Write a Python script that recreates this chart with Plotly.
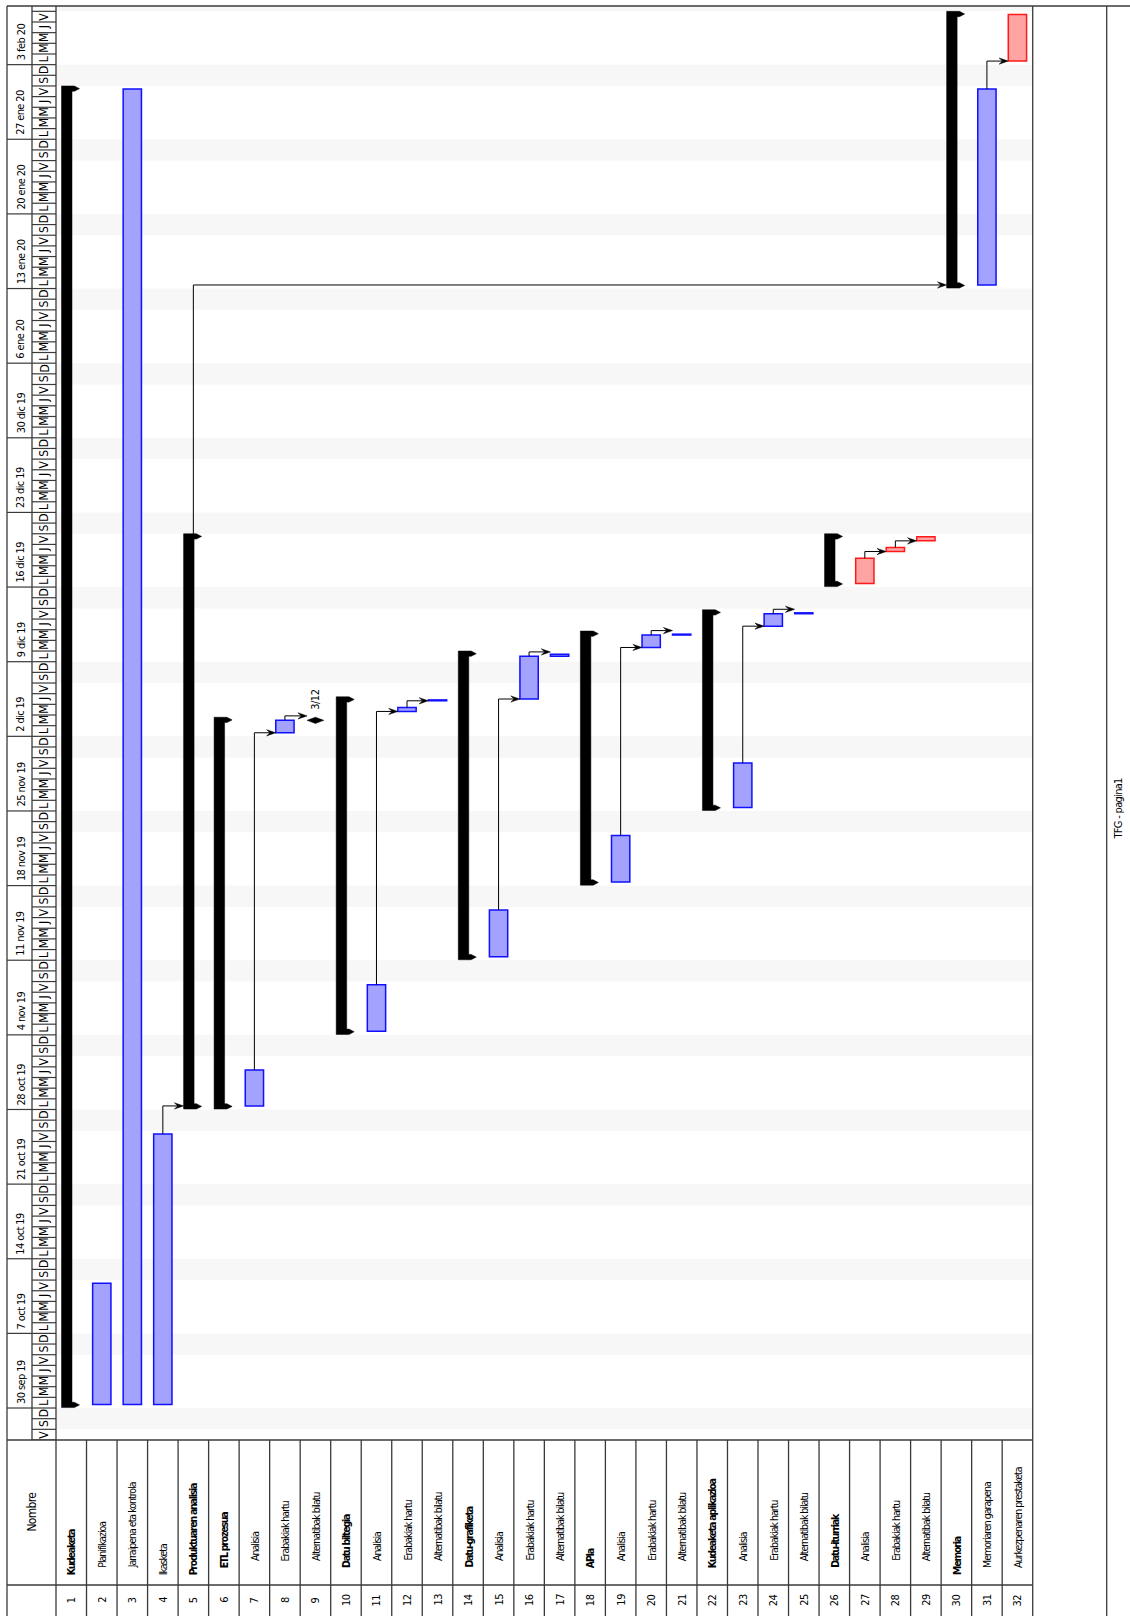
import pandas as pd
import plotly.graph_objects as go

# ---------------- project data ----------------
task_ids = list(range(1, 33))
task_names = [
    "Kudeaketa", "Planifikazioa", "Jarraipena eta kontrola", "Ikasketa",
    "Produktuaren analisia", "ETL prozesua", "Analisia", "Erabakiak hartu",
    "Alternatibak bilatu", "Datu biltegia", "Analisia", "Erabakiak hartu",
    "Alternatibak bilatu", "Datu-grafiketa", "Analisia", "Erabakiak hartu",
    "Alternatibak bilatu", "APIa", "Analisia", "Erabakiak hartu",
    "Alternatibak bilatu", "Kudeaketa aplikazioa", "Analisia", "Erabakiak hartu",
    "Alternatibak bilatu", "Datu-iturriak", "Analisia", "Erabakiak hartu",
    "Alternatibak bilatu", "Memoria", "Memoriaren garapena", "Aurkezpenaren prestaketa",
]
outline_levels = [1, 2, 2, 1, 1, 2, 3, 3, 3, 2, 3, 3, 3, 2, 3, 3,
                  3, 2, 3, 3, 3, 2, 3, 3, 3, 2, 3, 3, 3, 1, 2, 2]
task_kinds = [
    "summary", "task", "task", "task", "summary", "summary", "task", "task",
    "milestone", "summary", "task", "task", "task", "summary", "task", "task",
    "task", "summary", "task", "task", "task", "summary", "task", "task",
    "task", "summary", "critical", "critical", "critical", "summary", "task", "critical",
]
task_starts = [
    "2019-09-30 08:00", "2019-09-30 08:00", "2019-09-30 08:00", "2019-09-30 08:00",
    "2019-10-28 08:00", "2019-10-28 08:00", "2019-10-28 08:00", "2019-12-02 08:00",
    "2019-12-03 12:00", "2019-11-04 08:00", "2019-11-04 08:00", "2019-12-04 08:00",
    "2019-12-05 08:00", "2019-11-11 08:00", "2019-11-11 08:00", "2019-12-05 12:00",
    "2019-12-09 12:00", "2019-11-18 08:00", "2019-11-18 08:00", "2019-12-10 08:00",
    "2019-12-11 12:00", "2019-11-25 08:00", "2019-11-25 08:00", "2019-12-12 08:00",
    "2019-12-13 12:00", "2019-12-16 08:00", "2019-12-16 08:00", "2019-12-19 08:00",
    "2019-12-20 08:00", "2020-01-13 08:00", "2020-01-13 08:00", "2020-02-03 08:00",
]
task_finishes = [
    "2020-01-31 17:00", "2019-10-11 17:00", "2020-01-31 17:00", "2019-10-25 17:00",
    "2019-12-20 17:00", "2019-12-03 12:00", "2019-10-31 17:00", "2019-12-03 12:00",
    "2019-12-03 12:00", "2019-12-05 10:00", "2019-11-08 17:00", "2019-12-04 17:00",
    "2019-12-05 10:00", "2019-12-09 17:00", "2019-11-15 17:00", "2019-12-09 12:00",
    "2019-12-09 17:00", "2019-12-11 14:00", "2019-11-22 17:00", "2019-12-11 12:00",
    "2019-12-11 14:00", "2019-12-13 14:00", "2019-11-29 12:00", "2019-12-13 12:00",
    "2019-12-13 14:00", "2019-12-20 17:00", "2019-12-18 17:00", "2019-12-19 17:00",
    "2019-12-20 17:00", "2020-02-07 17:00", "2020-01-31 17:00", "2020-02-07 17:00",
]
# finish-to-start dependencies (predecessor id, successor id)
links = [(4, 5), (5, 30), (7, 8), (8, 9), (11, 12), (12, 13), (15, 16), (16, 17),
         (19, 20), (20, 21), (23, 24), (24, 25), (27, 28), (28, 29), (31, 32)]
milestone_labels = {9: "3/12"}

day_letters = ["L", "M", "M", "J", "V", "S", "D"]
month_abbr = ["ene", "feb", "mar", "abr", "may", "jun", "jul", "ago", "sep", "oct", "nov", "dic"]
timescale_start = "2019-09-27 00:00"
timescale_end = "2020-02-08 12:00"
name_header = "Nombre"
footer_text = "TFG - pagina1"

# ---------------- page geometry (pixels) ----------------
W, H = 1130, 1616
GRID_LEFT, GRID_RIGHT = 56.0, 1032.7
COLW = (GRID_RIGHT - GRID_LEFT) / len(task_ids)
CHART_TOP, CHART_BOTTOM = 6.0, 1440.0
NAME_BOTTOM = 1585.0
PAGE_LEFT, TIER_SPLIT = 7.0, 32.0
FOOTER_LINE = 1106.7

FONT = "Liberation Sans Narrow, Arial Narrow, DejaVu Sans Condensed, sans-serif"
LINE_COL = "#3a3a3a"
TASK_FILL, TASK_EDGE = "#a3a3ff", "#1010ff"
CRIT_FILL, CRIT_EDGE = "#ffa3a3", "#ff1a1a"
WEEKEND = "#f7f7f7"


def col(px):
    """pixel x -> task-column axis units"""
    return 0.5 + (px - GRID_LEFT) / COLW


def pap(py):
    """pixel y -> paper fraction"""
    return 1 - py / H


def iso(ts):
    return ts.strftime("%Y-%m-%d %H:%M:%S")


def txt_font(size):
    return dict(size=size, family=FONT, color="black")


def tight(text, spacing, bold=False):
    """narrow printout lettering: tighter tracking, optional bold"""
    style = f"letter-spacing:{spacing}px"
    if bold:
        style += ";font-weight:bold"
    return f'<span style="{style}">{text}</span>'


starts = pd.to_datetime(pd.Series(task_starts))
finishes = pd.to_datetime(pd.Series(task_finishes))
t_lo, t_hi = pd.Timestamp(timescale_start), pd.Timestamp(timescale_end)
DAY = pd.Timedelta(days=1)

fig = go.Figure()
shapes, annotations = [], []

# ---------------- weekend shading ----------------
d = t_lo.normalize()
while d < t_hi:
    if d.weekday() == 5:
        shapes.append(dict(type="rect", xref="x", yref="y", x0=0.5, x1=len(task_ids) + 0.5,
                           y0=iso(d), y1=iso(min(d + 2 * DAY, t_hi)),
                           fillcolor=WEEKEND, line=dict(width=0), layer="below"))
    d += DAY

# ---------------- timescale header ----------------
xs_day, ys_day, xs_wk, ys_wk = [], [], [], []
d = t_lo.normalize()
while d <= t_hi:
    xs_day += [col(TIER_SPLIT), col(GRID_LEFT), None]
    ys_day += [iso(d), iso(d), None]
    if d.weekday() == 0:
        xs_wk += [col(PAGE_LEFT), col(TIER_SPLIT), None]
        ys_wk += [iso(d), iso(d), None]
        label = f"{d.day} {month_abbr[d.month - 1]} {d.strftime('%y')}"
        annotations.append(dict(
            x=col(21), y=iso(d), xref="x", yref="y", xanchor="center", yanchor="bottom",
            yshift=2, text=tight(label, -0.6), textangle=-90, showarrow=False,
            font=txt_font(11)))
    if d + DAY <= t_hi:
        annotations.append(dict(
            x=col(44), y=iso(d + DAY / 2), xref="x", yref="y", xanchor="center",
            yanchor="middle", text=day_letters[d.weekday()], textangle=-90, showarrow=False,
            font=txt_font(12)))
    d += DAY

fig.add_trace(go.Scatter(x=xs_day, y=ys_day, mode="lines", hoverinfo="skip",
                         line=dict(color=LINE_COL, width=1.2)))
fig.add_trace(go.Scatter(x=xs_wk, y=ys_wk, mode="lines", hoverinfo="skip",
                         line=dict(color=LINE_COL, width=1.2)))

# ---------------- task bars ----------------
kinds = pd.Series(task_kinds)
ids = pd.Series(task_ids)
dur_ms = (finishes - starts).dt.total_seconds() * 1000

for kind, fill, edge in [("task", TASK_FILL, TASK_EDGE), ("critical", CRIT_FILL, CRIT_EDGE)]:
    m = kinds == kind
    fig.add_trace(go.Bar(
        x=ids[m], y=dur_ms[m], base=[iso(t) for t in starts[m]], width=0.6,
        marker=dict(color=fill, line=dict(color=edge, width=1.5)),
        hoverinfo="skip", orientation="v"))

# summary bars with their end caps
E = pd.Timedelta(hours=7)      # bar runs a little past start/finish
C = pd.Timedelta(hours=12)     # cap height
sx, sy = [], []
for i, k, s, f in zip(task_ids, task_kinds, starts, finishes):
    if k != "summary":
        continue
    xl, xr, xm, xt = i - 0.32, i + 0.024, i + 0.10, i + 0.27
    t0, t1 = s - E, f + E
    pts = [(xl, t0), (xl, t1), (xm, t1), (xt, t1 - C / 2), (xm, t1 - C), (xr, t1 - C),
           (xr, t0 + C), (xm, t0 + C), (xt, t0 + C / 2), (xm, t0), (xl, t0)]
    sx += [p[0] for p in pts] + [None]
    sy += [iso(p[1]) for p in pts] + [None]
fig.add_trace(go.Scatter(x=sx, y=sy, mode="lines", fill="toself", fillcolor="black",
                         line=dict(color="black", width=0.5), hoverinfo="skip"))

# milestones
mx, my = [], []
HW, HH = 0.273, pd.Timedelta(hours=7)
for i, k, s in zip(task_ids, task_kinds, starts):
    if k != "milestone":
        continue
    pts = [(i - HW, s), (i, s + HH), (i + HW, s), (i, s - HH), (i - HW, s)]
    mx += [p[0] for p in pts] + [None]
    my += [iso(p[1]) for p in pts] + [None]
    annotations.append(dict(
        x=i, y=iso(s), xref="x", yref="y", xanchor="center", yanchor="bottom", yshift=9,
        text=tight(milestone_labels[i], -0.5), textangle=-90, showarrow=False,
        font=txt_font(11)))
fig.add_trace(go.Scatter(x=mx, y=my, mode="lines", fill="toself", fillcolor="black",
                         line=dict(color="black", width=0.5), hoverinfo="skip"))

# ---------------- dependency links ----------------
JOG = pd.Timedelta(hours=10)
AH_L, AH_N, AH_H = 0.30, 0.19, pd.Timedelta(hours=7)
left_off = {"task": 0.3, "critical": 0.3, "milestone": HW, "summary": 0.32}
lx, ly, ax_, ay_ = [], [], [], []
for p, q in links:
    pe = finishes[p - 1]
    qs = starts[q - 1]
    ta = max(qs, pe + JOG)
    tip = q - left_off[task_kinds[q - 1]]
    lx += [p, p, tip - AH_N, None]
    ly += [iso(pe), iso(ta), iso(ta), None]
    pts = [(tip, ta), (tip - AH_L, ta + AH_H), (tip - AH_N, ta), (tip - AH_L, ta - AH_H), (tip, ta)]
    ax_ += [pt[0] for pt in pts] + [None]
    ay_ += [iso(pt[1]) for pt in pts] + [None]
fig.add_trace(go.Scatter(x=lx, y=ly, mode="lines", line=dict(color="black", width=1),
                         hoverinfo="skip"))
fig.add_trace(go.Scatter(x=ax_, y=ay_, mode="lines", fill="toself", fillcolor="black",
                         line=dict(color="black", width=0.5), hoverinfo="skip"))


# ---------------- table frame ----------------
def pline(x0, y0, x1, y1, xref="paper"):
    shapes.append(dict(type="line", xref=xref, yref="paper", x0=x0, y0=y0, x1=x1, y1=y1,
                       line=dict(color=LINE_COL, width=1.3), layer="above"))


pline(PAGE_LEFT / W, pap(CHART_TOP), 1, pap(CHART_TOP))                  # top border
pline(PAGE_LEFT / W, pap(CHART_TOP), PAGE_LEFT / W, 0)                   # left border
pline(TIER_SPLIT / W, pap(CHART_TOP), TIER_SPLIT / W, pap(CHART_BOTTOM))  # tier split
pline(GRID_LEFT / W, pap(CHART_TOP), GRID_LEFT / W, 0)
pline(GRID_RIGHT / W, pap(CHART_TOP), GRID_RIGHT / W, 0)
pline(FOOTER_LINE / W, pap(CHART_TOP), FOOTER_LINE / W, 0)
pline(PAGE_LEFT / W, pap(CHART_BOTTOM), GRID_RIGHT / W, pap(CHART_BOTTOM))
pline(PAGE_LEFT / W, pap(NAME_BOTTOM), GRID_RIGHT / W, pap(NAME_BOTTOM))
for i in task_ids[:-1]:
    pline(i + 0.5, pap(CHART_BOTTOM), i + 0.5, 0, xref="x")

# ---------------- name / id columns ----------------
for i, name, lvl, k in zip(task_ids, task_names, outline_levels, task_kinds):
    bold = k == "summary"
    annotations.append(dict(
        x=i, y=pap(1577 - 7 * (lvl - 1)), xref="x", yref="paper", xanchor="center",
        yanchor="bottom", text=tight(name, -1.25 if bold else -1.0, bold=bold), textangle=-90,
        showarrow=False, font=txt_font(10.5)))
    annotations.append(dict(
        x=i, y=pap(1600), xref="x", yref="paper", xanchor="center", yanchor="middle",
        text=tight(str(i), -0.5), textangle=-90, showarrow=False, font=txt_font(11)))

annotations.append(dict(x=col(31.5), y=pap(1512), xref="x", yref="paper", xanchor="center",
                        yanchor="middle", text=tight(name_header, -0.7), textangle=-90,
                        showarrow=False, font=txt_font(12)))
annotations.append(dict(x=col(1118.5), y=pap(809), xref="x", yref="paper", xanchor="center",
                        yanchor="middle", text=tight(footer_text, -0.7), textangle=-90,
                        showarrow=False, font=txt_font(11)))

fig.update_layout(
    width=W, height=H, margin=dict(l=0, r=0, t=0, b=0), autosize=False,
    paper_bgcolor="white", plot_bgcolor="white", showlegend=False, barmode="overlay",
    xaxis=dict(domain=[0, 1], range=[col(0), col(W)], visible=False, fixedrange=True),
    yaxis=dict(type="date", domain=[pap(CHART_BOTTOM), pap(CHART_TOP)],
               range=[timescale_start, timescale_end], visible=False, fixedrange=True),
    shapes=shapes, annotations=annotations,
)

fig.write_html("out.html")
